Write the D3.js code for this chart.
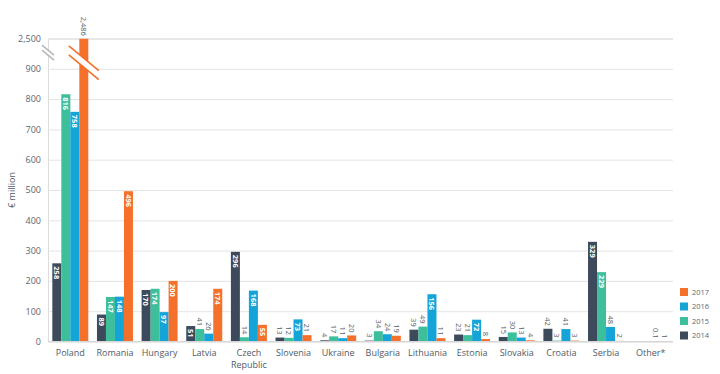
<!DOCTYPE html>
<html lang="en">

<head>
	<meta charset="utf-8">
	<title>D3: grouped bars with axis break</title>
	<script type="text/javascript" src="https://cdn.jsdelivr.net/npm/d3@7"></script>
	<style type="text/css">
		body {
			margin: 0;
			background: #fff;
		}
		text {
			font-family: "Open Sans", sans-serif;
		}
	</style>
</head>

<body>
	<script type="text/javascript">

		var countries = ["Poland", "Romania", "Hungary", "Latvia", "Czech Republic", "Slovenia", "Ukraine",
			"Bulgaria", "Lithuania", "Estonia", "Slovakia", "Croatia", "Serbia", "Other*"];
		var years = ["2014", "2015", "2016", "2017"];
		var v2014 = [258, 89, 170, 51, 296, 13, 4, 3, 39, 23, 15, 42, 329, null];
		var v2015 = [816, 147, 174, 41, 14, 12, 17, 34, 49, 21, 30, 3, 229, null];
		var v2016 = [758, 148, 97, 26, 168, 73, 11, 24, 156, 72, 13, 41, 48, 0.1];
		var v2017 = [2486, 496, 200, 174, 55, 21, 20, 19, 11, 8, 4, 3, 2, 1];
		var yTicks = [0, 100, 200, 300, 400, 500, 600, 700, 800, 900, 2500];

		var colors = ["#3c4a5b", "#3dbf9c", "#14a4d8", "#f4702b"];
		var series = [v2014, v2015, v2016, v2017];

		var w = 720;
		var h = 374;
		var mLeft = 48, mRight = 673, mTop = 38.5, mBottom = 341.5;

		// values above 900 are squeezed into the 900-1000 slot (2,500 sits at 1000)
		function squeeze(v) {
			return v <= 900 ? v : 900 + (v - 900) / (2500 - 900) * 100;
		}

		var svg = d3.select("body")
			.append("svg")
			.attr("width", w)
			.attr("height", h);

		var x = d3.scaleBand()
			.domain(countries)
			.range([mLeft, mRight]);

		var xIn = d3.scaleBand()
			.domain(years)
			.range([0, 36]);

		var y = d3.scaleLinear()
			.domain([0, 1000])
			.range([mBottom, mTop]);

		// gridlines and y labels
		var yAxis = d3.axisLeft(y)
			.tickValues(yTicks.map(squeeze))
			.tickSize(-(mRight - mLeft))
			.tickPadding(7)
			.tickFormat(function(d, i){ return d3.format(",")(yTicks[i]); });

		var gy = svg.append("g")
			.attr("transform", "translate(" + mLeft + ",0)")
			.call(yAxis);
		gy.select(".domain").attr("stroke", "#dcdcdc");
		gy.selectAll(".tick line").attr("stroke", "#e4e4e4");
		gy.selectAll(".tick text")
			.attr("fill", "#5d6670")
			.attr("font-size", "9px");

		var cells = [];
		countries.forEach(function(c, i){
			series.forEach(function(s, j){
				if (s[i] !== null) cells.push({country: c, year: years[j], k: j, value: s[i]});
			});
		});

		var offset = (x.bandwidth() - 36) / 2;

		// bars
		svg.selectAll("rect.bar")
			.data(cells)
			.enter()
			.append("rect")
			.attr("class", "bar")
			.attr("x", function(d){ return x(d.country) + offset + xIn(d.year); })
			.attr("y", function(d){ return y(squeeze(d.value)); })
			.attr("width", xIn.bandwidth())
			.attr("height", function(d){ return mBottom - y(squeeze(d.value)); })
			.attr("fill", function(d){ return colors[d.k]; });

		// baseline
		svg.append("line")
			.attr("x1", mLeft).attr("x2", mRight)
			.attr("y1", y(0)).attr("y2", y(0))
			.attr("stroke", "#d6d6d6");

		// break marks: on the axis and across the Poland 2017 bar
		var slope = 0.83;
		function breakMark(cx, cy, half, color, gap) {
			var g = svg.append("g");
			g.append("polygon")
				.attr("points", [
					[cx - half, cy - gap - slope * half],
					[cx + half, cy - gap + slope * half],
					[cx + half, cy + gap + slope * half],
					[cx - half, cy + gap - slope * half]
				].map(function(p){ return p.join(","); }).join(" "))
				.attr("fill", "#fff");
			[-gap, gap].forEach(function(o){
				g.append("line")
					.attr("x1", cx - half).attr("y1", cy + o - slope * half)
					.attr("x2", cx + half).attr("y2", cy + o + slope * half)
					.attr("stroke", color)
					.attr("stroke-width", 1.6);
			});
		}
		breakMark(mLeft, y(950) - 1, 6, "#b5b9be", 2.5);
		var pX = x("Poland") + offset + xIn("2017") + xIn.bandwidth() / 2;
		breakMark(pX, y(920), 15, colors[3], 4.5);

		// value labels, rotated
		svg.selectAll("text.val")
			.data(cells)
			.enter()
			.append("text")
			.attr("class", "val")
			.attr("transform", function(d){
				var cx = x(d.country) + offset + xIn(d.year) + xIn.bandwidth() / 2;
				var inside = d.value >= 50;
				var ty = inside ? y(squeeze(d.value)) + 3 : y(squeeze(d.value)) - 3;
				return "translate(" + cx + "," + ty + ") rotate(90)";
			})
			.attr("dy", "0.35em")
			.attr("text-anchor", function(d){ return d.value >= 50 ? "start" : "end"; })
			.attr("font-size", "7.5px")
			.attr("font-weight", function(d){ return d.value >= 50 ? "bold" : "normal"; })
			.attr("fill", function(d){ return d.value >= 50 ? "#fff" : "#555d66"; })
			.text(function(d){ return d3.format(",")(d.value); });

		// the Poland 2017 label sits above its bar
		svg.selectAll("text.val")
			.filter(function(d){ return d.value > 900 && d.year === "2017"; })
			.attr("transform", function(d){
				var cx = x(d.country) + offset + xIn(d.year) + xIn.bandwidth() / 2;
				return "translate(" + cx + "," + (y(squeeze(d.value)) - 3) + ") rotate(90)";
			})
			.attr("text-anchor", "end")
			.attr("font-weight", "normal")
			.attr("fill", "#555d66");

		// category labels
		svg.selectAll("text.cat")
			.data(countries)
			.enter()
			.append("text")
			.attr("class", "cat")
			.attr("x", function(d){ return x(d) + x.bandwidth() / 2; })
			.attr("y", 356)
			.attr("text-anchor", "middle")
			.attr("font-size", "9px")
			.attr("fill", "#4f5b68")
			.each(function(d){
				var words = d === "Czech Republic" ? ["Czech", "Republic"] : [d];
				var t = d3.select(this);
				words.forEach(function(wd, i){
					t.append("tspan")
						.attr("x", x(d) + x.bandwidth() / 2)
						.attr("dy", i === 0 ? 0 : "1.35em")
						.text(wd);
				});
			});

		// y axis title
		svg.append("text")
			.attr("transform", "translate(15,190) rotate(-90)")
			.attr("text-anchor", "middle")
			.attr("font-size", "9px")
			.attr("fill", "#4f5b68")
			.text("€ million");

		// legend
		var legend = svg.selectAll("g.legend")
			.data(years.slice().reverse())
			.enter()
			.append("g")
			.attr("class", "legend")
			.attr("transform", function(d, i){ return "translate(680," + (288 + i * 14.5) + ")"; });

		legend.append("rect")
			.attr("width", 8)
			.attr("height", 8)
			.attr("fill", function(d){ return colors[years.indexOf(d)]; });

		legend.append("text")
			.attr("x", 12)
			.attr("y", 4)
			.attr("dy", "0.35em")
			.attr("font-size", "7.5px")
			.attr("fill", "#5d6670")
			.text(function(d){ return d; });

	</script>
</body>

</html>
